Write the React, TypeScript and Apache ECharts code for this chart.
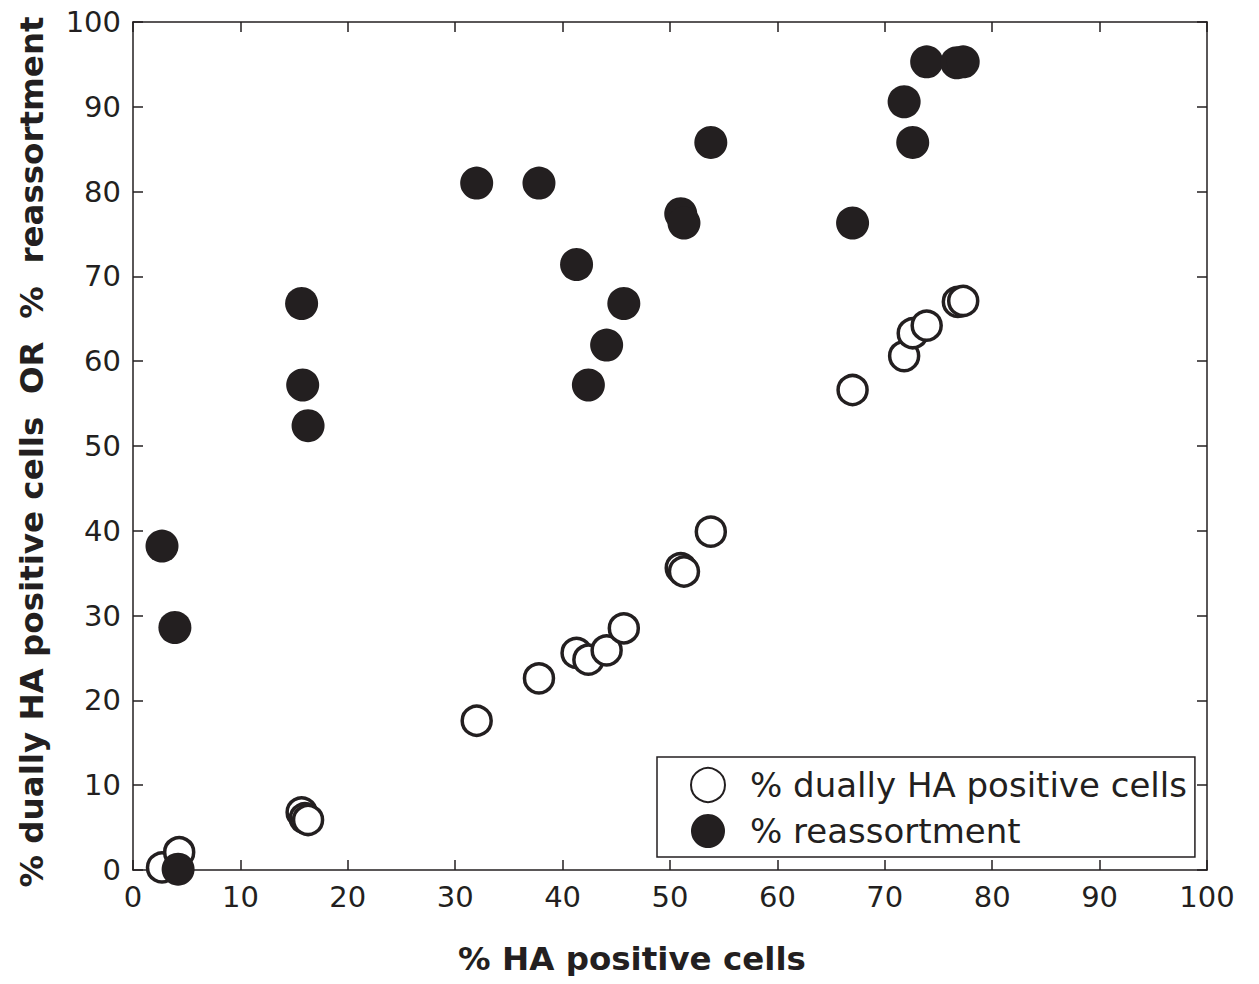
import React, { useEffect, useRef } from "react";
import * as echarts from "echarts";

const dualX = [2.7, 4.3, 15.7, 16.0, 16.3, 32.0, 37.8, 41.3, 42.4, 44.1, 45.7, 51.0, 51.3, 53.8, 67.0, 71.8, 72.6, 73.9, 76.8, 77.3];
const dualY = [0.3, 2.1, 6.8, 6.1, 5.9, 17.6, 22.6, 25.6, 24.8, 25.9, 28.5, 35.6, 35.2, 39.9, 56.6, 60.6, 63.3, 64.2, 67.0, 67.1];

const reX = [2.7, 3.9, 4.2, 15.7, 15.8, 16.3, 32.0, 37.8, 41.3, 42.4, 44.1, 45.7, 51.0, 51.3, 53.8, 67.0, 71.8, 72.6, 73.9, 76.7, 77.3];
const reY = [38.2, 28.6, 0.1, 66.8, 57.2, 52.4, 81.0, 81.0, 71.4, 57.2, 61.9, 66.8, 77.4, 76.3, 85.8, 76.3, 90.6, 85.8, 95.3, 95.2, 95.3];

const xTicks = { min: 0, max: 100, interval: 10 };
const yTicks = { min: 0, max: 100, interval: 10 };

const INK = "#231f20";
const FONT = "DejaVu Sans, Liberation Sans, Arial, sans-serif";

export default function App() {
  const ref = useRef<HTMLDivElement>(null);
  useEffect(() => {
    const chart = echarts.init(ref.current!, null, { renderer: "svg" });
    const axisLine = { show: true, onZero: false, lineStyle: { color: INK, width: 1.5 } };
    const axisTick = { show: true, inside: true, length: 10, lineStyle: { color: INK, width: 1.5 } };
    const labelStyle = { color: INK, fontSize: 29, lineHeight: 26, fontFamily: FONT };
    chart.setOption({
      animation: false,
      backgroundColor: "#ffffff",
      grid: { left: 133, right: 52, top: 22, bottom: 114 },
      xAxis: [
        {
          type: "value", ...xTicks, position: "bottom",
          axisLine, axisTick, splitLine: { show: false },
          axisLabel: { ...labelStyle, margin: 14 },
          name: "% HA positive cells", nameLocation: "middle", nameGap: 72,
          nameTextStyle: { color: INK, fontSize: 32.5, fontWeight: "bold", fontFamily: FONT, padding: [0, 76, 0, 0] },
        },
        {
          type: "value", ...xTicks, position: "top",
          axisLine, axisTick, splitLine: { show: false }, axisLabel: { show: false },
        },
      ],
      yAxis: [
        {
          type: "value", ...yTicks, position: "left",
          axisLine, axisTick, splitLine: { show: false },
          axisLabel: { ...labelStyle, margin: 12 },
          name: "% dually HA positive cells  OR  %  reassortment", nameLocation: "middle", nameGap: 85,
          nameTextStyle: { color: INK, fontSize: 32.5, fontWeight: "bold", fontFamily: FONT, padding: [0, 12, 0, 0] },
        },
        {
          type: "value", ...yTicks, position: "right",
          axisLine, axisTick, splitLine: { show: false }, axisLabel: { show: false },
        },
      ],
      legend: {
        orient: "vertical",
        left: 657, top: 757,
        padding: [10, 8, 9, 33],
        itemWidth: 34, itemHeight: 34, itemGap: 11,
        borderColor: INK, borderWidth: 1.5, backgroundColor: "#ffffff",
        textStyle: { color: INK, fontSize: 34, fontFamily: FONT, padding: [0, 0, 0, 20] },
        data: ["% dually HA positive cells", "% reassortment"],
      },
      series: [
        {
          name: "% dually HA positive cells",
          type: "scatter",
          symbol: "circle",
          symbolSize: 29,
          itemStyle: { color: "#ffffff", borderColor: INK, borderWidth: 3.5, opacity: 1 },
          data: dualX.map((x, i) => [x, dualY[i]]),
          z: 2,
        },
        {
          name: "% reassortment",
          type: "scatter",
          symbol: "circle",
          symbolSize: 33,
          itemStyle: { color: INK, opacity: 1 },
          data: reX.map((x, i) => [x, reY[i]]),
          z: 3,
        },
        {
          type: "scatter",
          xAxisIndex: 1,
          yAxisIndex: 1,
          data: [],
          silent: true,
        },
      ],
    });
    return () => chart.dispose();
  }, []);
  return <div ref={ref} style={{ width: 1259, height: 984, margin: -8 }} />;
}
